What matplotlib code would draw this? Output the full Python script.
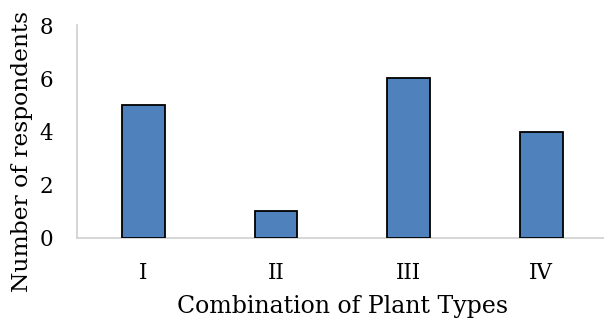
import matplotlib
matplotlib.use("Agg")
import matplotlib.pyplot as plt

categories = ["I", "II", "III", "IV"]
values = [5, 1, 6, 4]
yticks = [0, 2, 4, 6, 8]

plt.rcParams['font.family'] = ['DejaVu Serif']

fig = plt.figure(figsize=(6.04, 3.2), dpi=100)
ax = fig.add_axes([77/604, (320-238)/320, 1 - 77/604 + 0.006, (238-25)/320])
x = list(range(len(categories)))
ax.bar(x, values, width=0.32, color="#4F81BD", edgecolor="black", linewidth=1.3, zorder=3)
ax.set_xlim(-0.5, 3.5)
ax.set_ylim(0, 8)
ax.set_yticks(yticks)
ax.set_xticks(x)
ax.set_xticklabels(categories)
ax.tick_params(axis='both', length=0, labelsize=15.5)
ax.tick_params(axis='x', pad=17)
ax.tick_params(axis='y', pad=17)
for s in ["top", "right"]:
    ax.spines[s].set_visible(False)
for s in ["left", "bottom"]:
    ax.spines[s].set_color("#D0D0D0")
    ax.spines[s].set_linewidth(1.2)
fig.text(22/604, 1 - 151/320, "Number of respondents", rotation=90,
         ha="center", va="center", fontsize=16.8)
ax.set_xlabel("Combination of Plant Types", fontsize=17, labelpad=8)
fig.savefig("out.png", dpi=100)
